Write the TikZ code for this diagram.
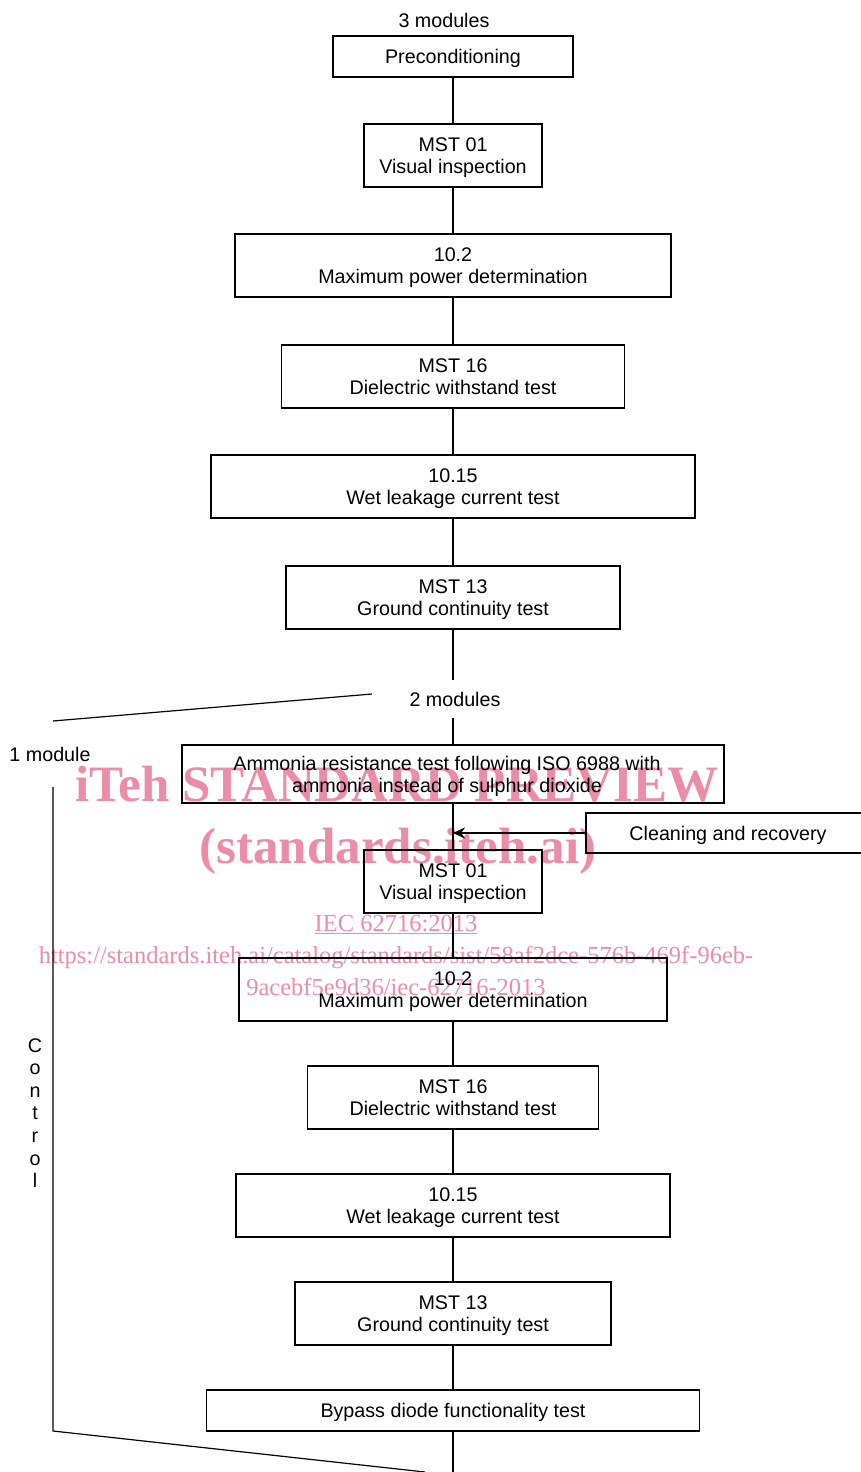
\documentclass[tikz,border=0pt]{standalone}
\usepackage{fontspec}
\setmainfont{Liberation Sans}
\newfontfamily\wmfont{Liberation Serif}
\usetikzlibrary{arrows.meta}
\definecolor{wmpink}{RGB}{235,140,168}
\begin{document}
\begin{tikzpicture}[x=1pt,y=-1pt,
  box/.style={draw, line width=1.2pt, align=center, inner sep=0pt, text depth=-1.5pt,
    font=\fontsize{19.7}{22}\selectfont},
  lbl/.style={inner sep=0pt, font=\fontsize{19.7}{22}\selectfont},
  ln/.style={line width=1.2pt},
  wmbig/.style={inner sep=0pt, anchor=base, text=wmpink,
    font=\wmfont\bfseries\fontsize{51}{51}\selectfont},
  wmsmall/.style={inner sep=0pt, anchor=base, text=wmpink,
    font=\wmfont\fontsize{24.5}{25}\selectfont}]
\useasboundingbox (0,0) rectangle (861,1472);

% watermark (behind)
\node[wmbig] (wma) at (397,801) {iTeh STANDARD PREVIEW};
\node[wmbig] (wmb) at (398,863) {(standards.iteh.ai)};
\node[wmsmall] (wmc) at (396,931) {\underline{IEC 62716:2013}};
\node[wmsmall] (wmd) at (396,963) {https://standards.iteh.ai/catalog/standards/sist/58af2dce-576b-469f-96eb-};
\node[wmsmall] (wme) at (396,995) {9acebf5e9d36/iec-62716-2013};

% labels
\node[lbl] (three) at (444,20) {3 modules};
\node[lbl, minimum height=37] (two) at (455,699) {2 modules};
\node[lbl] (one) at (50,754) {1 module};
\node[lbl, align=center, font=\fontsize{19.7}{22.6}\selectfont] (ctl) at (35,1113) {C\\o\\n\\t\\r\\o\\l};

% boxes
\node[box, minimum width=240, minimum height=41] (pre) at (453,56.5) {Preconditioning};
\node[box, minimum width=178, minimum height=63] (v1) at (453,155.5) {MST 01\\Visual inspection};
\node[box, minimum width=436, minimum height=63] (p1) at (453,265.5) {10.2\\Maximum power determination};
\node[box, minimum width=343, minimum height=63] (d1) at (453,376.5) {MST 16\\Dielectric withstand test};
\node[box, minimum width=484, minimum height=63] (w1) at (453,486.5) {10.15\\Wet leakage current test};
\node[box, minimum width=334, minimum height=63] (g1) at (453,597.5) {MST 13\\Ground continuity test};

\node[box, minimum width=542, minimum height=58] (am) at (453,774) {Ammonia resistance test following ISO 6988 with\hspace*{12pt}\\ammonia instead of sulphur dioxide\hspace*{12pt}};
\node[box, minimum width=284, minimum height=40] (cl) at (728,833) {Cleaning and recovery};
\node[box, minimum width=178, minimum height=63] (v2) at (453,881.5) {MST 01\\Visual inspection};
\node[box, minimum width=428, minimum height=63] (p2) at (453,989.5) {10.2\\Maximum power determination};
\node[box, minimum width=291, minimum height=63] (d2) at (453,1097.5) {MST 16\\Dielectric withstand test};
\node[box, minimum width=434, minimum height=63] (w2) at (453,1205.5) {10.15\\Wet leakage current test};
\node[box, minimum width=316, minimum height=63] (g2) at (453,1313.5) {MST 13\\Ground continuity test};
\node[box, minimum width=493, minimum height=41] (by) at (453,1410.5) {Bypass diode functionality test};

% coordinates
\coordinate (bend) at (453,1472);
\coordinate (arr) at (453,833);
\coordinate (s1) at (372,694);
\coordinate (s2) at (53,721);
\coordinate (l1) at (53,787);
\coordinate (l2) at (53,1431);
\coordinate (l3) at (425,1472);

% connectors
\draw[ln] (pre) -- (v1);
\draw[ln] (v1) -- (p1);
\draw[ln] (p1) -- (d1);
\draw[ln] (d1) -- (w1);
\draw[ln] (w1) -- (g1);
\draw[ln] (g1.south) -- (g1.south |- two.north);
\draw[ln] (two.south -| am.north) -- (am.north);
\draw[ln] (am) -- (v2);
\draw[ln] (v2) -- (p2);
\draw[ln] (p2) -- (d2);
\draw[ln] (d2) -- (w2);
\draw[ln] (w2) -- (g2);
\draw[ln] (g2) -- (by);
\draw[ln] (by) -- (bend);
\draw[line width=2.2pt, -{Stealth[length=12pt,width=11pt]}] (cl) -- (arr);
\draw[ln] (s1) -- (s2);
\draw[ln] (l1) -- (l2) -- (l3);
\end{tikzpicture}
\end{document}
